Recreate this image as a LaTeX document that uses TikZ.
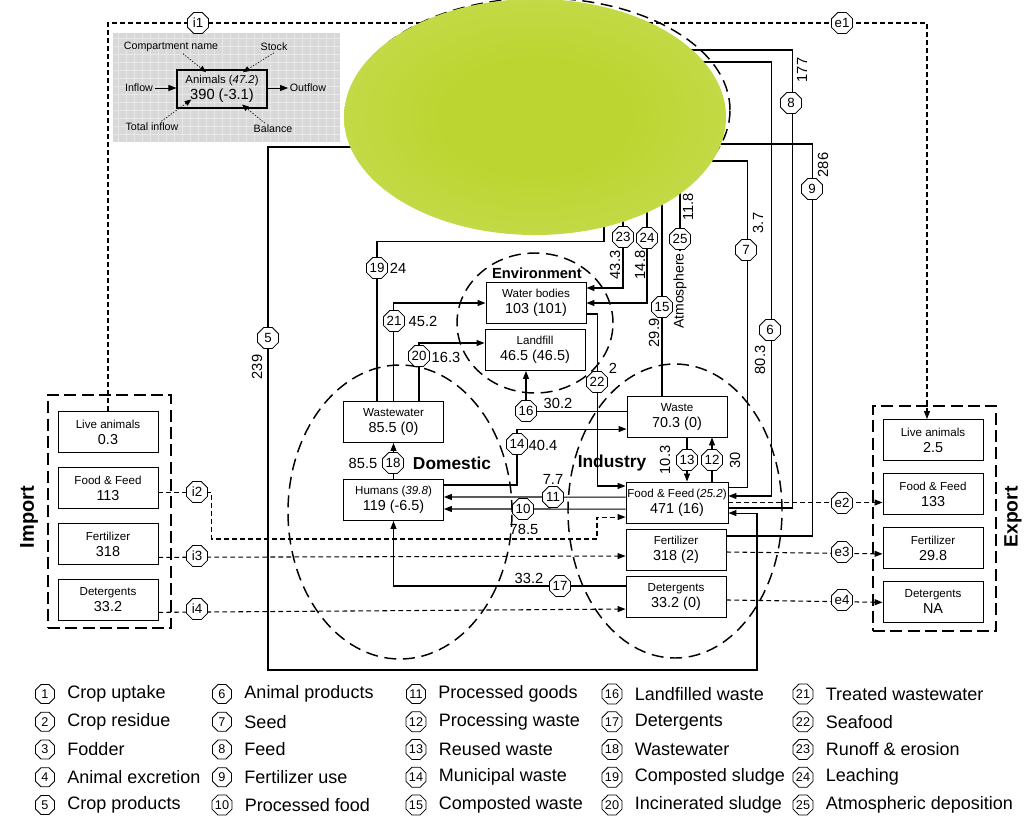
\documentclass[tikz,border=0pt]{standalone}
\usepackage{fontspec}
\setmainfont{Liberation Sans}
\usetikzlibrary{arrows.meta,positioning,shapes.geometric}
\definecolor{blobgreen}{RGB}{189,213,48}
\definecolor{blobedge}{RGB}{208,226,112}
\definecolor{insetgray}{RGB}{216,216,216}
\definecolor{gridgray}{RGB}{232,232,232}
\pgfdeclareradialshading{blobshade}{\pgfpointorigin}{color(0bp)=(blobgreen); color(12bp)=(blobgreen); color(50bp)=(blobedge)}
\newcommand{\cmptext}[2]{{\fontsize{8.7}{10}\selectfont #1}\\{\fontsize{10.8}{12}\selectfont #2}}

\begin{document}
\begin{tikzpicture}[x=0.75pt, y=-0.75pt, line width=0.8pt,
  >={Triangle[length=6pt,width=4.5pt]},
  every node/.style={font=\fontsize{11}{12}\selectfont},
  cmp/.style={draw, line width=0.7pt, fill=white, align=center, minimum width=75pt, minimum height=30.75pt, inner sep=1pt},
  oct/.style={draw, fill=white, regular polygon, regular polygon sides=8, minimum size=17pt, inner sep=0pt, line width=0.6pt, font=\fontsize{10}{10}\selectfont},
  keyoct/.style={oct, minimum size=15.5pt, font=\fontsize{9.5}{10}\selectfont},
  keytext/.style={font=\fontsize{13.5}{15}\selectfont, anchor=west, inner sep=0pt},
  zoneline/.style={draw, ellipse, inner sep=0pt, line width=1.1pt, dash pattern=on 9pt off 5pt},
  tradebox/.style={draw, inner sep=0pt, line width=1.3pt, dash pattern=on 9pt off 4pt},
  tradeline/.style={dash pattern=on 3.5pt off 2.5pt},
  val/.style={inner sep=1pt},
  vval/.style={inner sep=1pt, rotate=90},
  zonename/.style={font=\bfseries\fontsize{13}{15}\selectfont},
  hint/.style={font=\fontsize{8}{9}\selectfont, inner sep=1pt},
  hintline/.style={-{Triangle[length=5pt,width=4pt]}, line width=0.5pt, dash pattern=on 1pt off 1.2pt}]

\useasboundingbox (0,0) rectangle (1034,815);

% how to read a compartment
\fill[insetgray] (113,33) rectangle (340,142);
\foreach \gx in {118,126,...,338} \draw[gridgray, line width=0.3pt] (\gx,33) -- (\gx,142);
\foreach \gy in {38,46,...,140} \draw[gridgray, line width=0.3pt] (113,\gy) -- (340,\gy);
\node[draw, align=center, minimum width=67.5pt, minimum height=28.5pt, inner sep=1pt] (anim) at (222,89) {{\fontsize{8.5}{10}\selectfont Animals (\textit{47.2})}\\{\fontsize{11}{12}\selectfont 390 (-3.1)}};
\node[hint] (lname) at (171,47) {Compartment name};
\node[hint] (lstock) at (274,47) {Stock};
\node[hint] (lin) at (139,88) {Inflow};
\node[hint] (lout) at (308,88) {Outflow};
\node[hint] (ltot) at (152,127) {Total inflow};
\node[hint] (lbal) at (273,129) {Balance};
\draw[->, line width=0.6pt] (lin.east) -- (lin.east -| anim.west);
\draw[->, line width=0.6pt] (lout.west -| anim.east) -- (lout.west);
\draw[hintline] ([xshift=9pt]lname.south) -- ([xshift=-12pt,yshift=-2pt]anim.north);
\draw[hintline] (lstock.south) -- ([xshift=15.75pt,yshift=-2pt]anim.north);
\draw[hintline] ([xshift=7pt]ltot.north) -- ([xshift=-23pt,yshift=6.75pt]anim.south);
\draw[hintline] ([xshift=-6pt]lbal.north) -- ([xshift=15pt,yshift=3pt]anim.south);

% compartments
\node[zoneline, minimum width=285pt, minimum height=168pt] (agri) at (540,110) {};
\node[zoneline, minimum width=168pt, minimum height=220.5pt] (dom) at (400,512) {};
\node[zoneline, minimum width=160.5pt, minimum height=220.5pt] (ind) at (675,511) {};
\node[zoneline, minimum width=117pt, minimum height=105pt] (env) at (535,323) {};
\node[tradebox, minimum width=92.25pt, minimum height=174.75pt] (imp) at (109.5,511.5) {};
\node[tradebox, minimum width=92.25pt, minimum height=168.75pt] (exp) at (934.5,518.5) {};

\node[cmp] (wb) at (536,303) {\cmptext{Water bodies}{103 (101)}};
\node[cmp] (lf) at (535,350) {\cmptext{Landfill}{46.5 (46.5)}};
\node[cmp] (ww) at (393.5,422) {\cmptext{Wastewater}{85.5 (0)}};
\node[cmp] (hu) at (393.5,500) {\cmptext{Humans (\textit{39.8})}{119 (-6.5)}};
\node[cmp] (wa) at (677,416.5) {\cmptext{Waste}{70.3 (0)}};
\node[cmp] (ff) at (677,502.5) {\cmptext{Food \& Feed\,(\textit{25.2})}{471 (16)}};
\node[cmp] (fe) at (676,550) {\cmptext{Fertilizer}{318 (2)}};
\node[cmp] (de) at (676,596.5) {\cmptext{Detergents}{33.2 (0)}};

\node[cmp] (imla) at (108,432) {\cmptext{Live animals}{0.3}};
\node[cmp, below=10.5pt of imla] (imff) {\cmptext{Food \& Feed}{113}};
\node[cmp, below=10.5pt of imff] (imfe) {\cmptext{Fertilizer}{318}};
\node[cmp, below=10.5pt of imfe] (imde) {\cmptext{Detergents}{33.2}};
\node[cmp] (exla) at (933,440) {\cmptext{Live animals}{2.5}};
\node[cmp, below=9pt of exla] (exff) {\cmptext{Food \& Feed}{133}};
\node[cmp, below=9pt of exff] (exfe) {\cmptext{Fertilizer}{29.8}};
\node[cmp, below=9pt of exfe] (exde) {\cmptext{Detergents}{NA}};

\node[zonename, rotate=90, font=\bfseries\fontsize{15}{17}\selectfont] (impname) at (29,517) {Import};
\node[zonename, rotate=90, font=\bfseries\fontsize{14.5}{17}\selectfont] (expname) at (1013,517) {Export};
\node[zonename] (domname) at (452,463) {Domestic};
\node[zonename] (indname) at (612,463) {Industry};
\node[zonename, font=\bfseries\fontsize{11}{13}\selectfont] (envname) at (537,273) {Environment};
\node[vval, font=\fontsize{10.5}{12}\selectfont] (atm) at (680,291) {Atmosphere};

% ends hidden under the agriculture blob
\coordinate (a5) at (380,147);
\coordinate (a6) at (690,62);
\coordinate (a7) at (690,161);
\coordinate (a8) at (670,50);
\coordinate (a9) at (700,144);
\coordinate (a15) at (662,200);
\coordinate (a19) at (604,200);
\coordinate (a23) at (623,200);
\coordinate (a24) at (647,200);
\coordinate (a25) at (680,180);
\coordinate (ai) at (470,23);
\coordinate (ae) at (600,23);

% trade
\draw[tradeline] (imla.north) |- (ai);
\draw[tradeline,->] (ae) -| ([xshift=-4.5pt]exla.north);
\draw[tradeline,->] ([yshift=-3.4pt]imff.east) -- ++(53,0) |- (597,539) |- ([yshift=-10.9pt]ff.west);
\draw[tradeline,->] ([yshift=-10.1pt]imfe.east) -- ([yshift=-4.5pt]fe.west);
\draw[tradeline,->] ([yshift=-9.4pt]imde.east) -- ([yshift=-9.4pt]de.west);
\draw[tradeline,->] (ff.east) -- (ff.east -| exff.west);
\draw[tradeline,->] ([yshift=-1.5pt]fe.east) -- ([yshift=-4.5pt]exfe.west);
\draw[tradeline,->] ([yshift=-2.6pt]de.east) -- ([yshift=-0.4pt]exde.west);

% flows
\draw[->] (a5) -| (268,670) -- (757,670) |- ([yshift=-7.9pt]ff.east);
\draw[->] (a6) -| ([xshift=32.25pt,yshift=4.9pt]ff.east) -- ([yshift=4.9pt]ff.east);
\draw ([yshift=11.6pt]ff.east) -- ++(19,0) |- (a7);
\draw ([yshift=-4.1pt]ff.east) -- ++(64,0) |- (a8);
\draw ([yshift=10.5pt]fe.east) -- ++(86,0) |- (a9);
\draw[->] ([yshift=-4.9pt]ff.west) -- ([yshift=-6.75pt]hu.east);
\draw[->] ([yshift=4.1pt]ff.west) -- ([yshift=2.25pt]hu.east);
\draw[->] ([xshift=26.25pt]ff.north) -- ([xshift=26.25pt]wa.south);
\draw[->] ([xshift=7.5pt]wa.south) -- ([xshift=7.5pt]ff.north);
\draw[->] ([yshift=11.25pt]hu.east) -- ++(73,0) |- ([yshift=-9.4pt]wa.west);
\draw ([xshift=-11.25pt]wa.north) -- (a15);
\draw[->] ([yshift=4.1pt]wa.west) -| ([xshift=-6.75pt]lf.south);
\draw[->] ([yshift=7.9pt]de.west) -| (hu.south);
\draw[->] (hu.north) -- (ww.south);
\draw ([xshift=-12.4pt]ww.north) -- ++(0,-160) -| (a19);
\draw[->] ([xshift=19.1pt]ww.north) |- ([yshift=5.25pt]lf.west);
\draw[->] (ww.north) |- (wb.west);
\draw[->] ([yshift=-8.25pt]wb.east) -- ++(11,0) |- ([yshift=12.4pt]ff.west);
\draw[->] (a23) |- ([yshift=11.25pt]wb.east);
\draw[->] (a24) |- (wb.east);
\draw (atm.east) -- (a25);

% agriculture
\node[ellipse, inner sep=0pt, minimum width=286.5pt, minimum height=177pt, shade, shading=blobshade] (blob) at (535,117) {};

% flow numbers
\foreach \n/\px/\py in {5/268/338, 6/770/330, 7/746/250, 8/791/103, 9/812/189,
  10/523/509, 11/553/497, 12/712/460, 13/687/460, 14/517/444, 15/662/307,
  16/526/411, 17/560/586, 18/393/463, 19/377/268, 20/419/356, 21/394/321,
  22/597/382, 23/623/237, 24/647/238, 25/680/239}
  \node[oct] (o\n) at (\px,\py) {\n};
\foreach \n/\px/\py in {i1/198/23, i2/197/492, i3/197/556, i4/197/609,
  e1/842/23, e2/842/503, e3/842/552, e4/842/600}
  \node[oct] (o\n) at (\px,\py) {\n};

\node[vval] (v5) at (257,367) {239};
\node[vval] (v6) at (760,360) {80.3};
\node[vval] (v7) at (758,223) {3.7};
\node[vval] (v8) at (802,70) {177};
\node[vval] (v9) at (823,165) {286};
\node[val] (v10) at (524,529) {78.5};
\node[val] (v11) at (553,479) {7.7};
\node[vval] (v12) at (735,460) {30};
\node[vval] (v13) at (665,460) {10.3};
\node[val] (v14) at (543,445) {40.4};
\node[vval] (v15) at (654,333) {29.9};
\node[val] (v16) at (558,403) {30.2};
\node[val] (v17) at (529,578) {33.2};
\node[val] (v18) at (363,463) {85.5};
\node[val] (v19) at (398,268) {24};
\node[val] (v20) at (446,357) {16.3};
\node[val] (v21) at (423,321) {45.2};
\node[val] (v22) at (613,368) {2};
\node[vval] (v23) at (615,265) {43.3};
\node[vval] (v24) at (640,265) {14.8};
\node[vval] (v25) at (688,207) {11.8};

% key
\foreach \n/\txt [count=\i from 0] in {1/Crop uptake, 2/Crop residue, 3/Fodder, 4/Animal excretion, 5/Crop products,
  6/Animal products, 7/Seed, 8/Feed, 9/Fertilizer use, 10/Processed food,
  11/Processed goods, 12/Processing waste, 13/Reused waste, 14/Municipal waste, 15/Composted waste,
  16/Landfilled waste, 17/Detergents, 18/Wastewater, 19/Composted sludge, 20/Incinerated sludge,
  21/Treated wastewater, 22/Seafood, 23/Runoff \& erosion, 24/Leaching, 25/Atmospheric deposition} {
  \pgfmathtruncatemacro{\col}{\i/5}
  \pgfmathtruncatemacro{\row}{mod(\i,5)}
  \pgfmathsetmacro{\kx}{{45,222,416,612,803}[\col]}
  \node[keyoct] (k\n) at (\kx,694+27.75*\row) {\n};
  \node[keytext, right=9pt of k\n] (kt\n) {\txt};
}

\end{tikzpicture}
\end{document}
